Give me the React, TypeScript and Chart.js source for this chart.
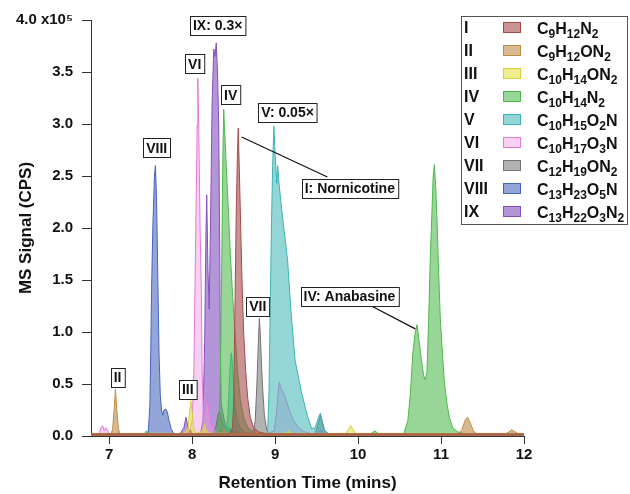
import React, { useEffect, useRef } from "react";
import { Chart, registerables } from "chart.js";

Chart.register(...registerables);

const FONT = '"Liberation Sans", Arial, Helvetica, sans-serif';

// ---- Legend content ----
const compoundIds = ["I", "II", "III", "IV", "V", "VI", "VII", "VIII", "IX"];
const formulas = [
  "C9H12N2",
  "C9H12ON2",
  "C10H14ON2",
  "C10H14N2",
  "C10H15O2N",
  "C10H17O3N",
  "C12H19ON2",
  "C13H23O5N",
  "C13H22O3N2",
];

// ---- Axis ticks ----
const xTickValues = [7, 8, 9, 10, 11, 12];
const yTickValues = [0, 0.5, 1.0, 1.5, 2.0, 2.5, 3.0, 3.5, 4.0];

// ---- Series (retention time in min, signal in 1e5 CPS) ----
const timeI = [6.78, 8.45, 8.485, 8.5, 8.515, 8.53, 8.545, 8.555, 8.57, 8.585, 8.6, 8.62, 8.645, 8.67, 8.7, 8.74, 8.8, 8.9, 12.0];
const signalI = [0.02, 0.02, 0.08, 0.3, 1.2, 2.1, 2.7, 2.96, 2.5, 2.0, 1.5, 1.0, 0.62, 0.36, 0.18, 0.08, 0.04, 0.02, 0.02];

const timeII = [6.78, 7.02, 7.04, 7.06, 7.075, 7.09, 7.11, 7.13, 7.95, 7.98, 8.0, 8.35, 8.38, 8.42, 11.2, 11.25, 11.29, 11.32, 11.35, 11.39, 11.43, 11.78, 11.82, 11.85, 11.89, 11.93, 12.0];
const signalII = [0.02, 0.02, 0.06, 0.26, 0.45, 0.26, 0.07, 0.02, 0.02, 0.06, 0.02, 0.02, 0.06, 0.02, 0.02, 0.06, 0.15, 0.18, 0.13, 0.05, 0.02, 0.02, 0.04, 0.06, 0.04, 0.02, 0.02];

const timeIII = [6.78, 7.9, 7.95, 7.97, 7.985, 8.0, 8.02, 8.05, 8.12, 8.15, 8.17, 8.22, 8.75, 8.8, 8.85, 9.12, 9.16, 9.2, 9.85, 9.88, 9.91, 9.94, 9.97, 12.0];
const signalIII = [0.025, 0.025, 0.08, 0.25, 0.34, 0.22, 0.07, 0.03, 0.04, 0.12, 0.05, 0.025, 0.025, 0.04, 0.025, 0.025, 0.05, 0.025, 0.025, 0.06, 0.1, 0.06, 0.025, 0.025];

const timeIV = [6.78, 7.42, 7.45, 7.48, 8.28, 8.32, 8.34, 8.355, 8.37, 8.38, 8.39, 8.41, 8.43, 8.46, 8.49, 8.52, 8.55, 8.58, 8.62, 8.67, 8.75, 8.85, 10.15, 10.2, 10.25, 10.55, 10.6, 10.63, 10.66, 10.69, 10.71, 10.73, 10.76, 10.79, 10.81, 10.83, 10.85, 10.87, 10.89, 10.905, 10.92, 10.935, 10.95, 10.97, 10.99, 11.02, 11.04, 11.07, 11.1, 11.14, 11.2, 11.3, 12.0];
const signalIV = [0.02, 0.02, 0.05, 0.02, 0.02, 0.1, 0.6, 1.6, 2.7, 3.14, 2.95, 2.6, 2.27, 1.75, 1.31, 0.95, 0.6, 0.35, 0.18, 0.08, 0.03, 0.02, 0.02, 0.05, 0.02, 0.02, 0.15, 0.4, 0.8, 1.0, 1.07, 0.95, 0.75, 0.58, 0.54, 0.62, 1.1, 1.7, 2.15, 2.5, 2.61, 2.4, 2.1, 1.6, 1.15, 0.75, 0.52, 0.32, 0.18, 0.08, 0.04, 0.02, 0.02];

const timeV = [6.78, 7.42, 7.46, 7.5, 8.4, 8.43, 8.455, 8.47, 8.485, 8.5, 8.53, 8.58, 8.65, 8.9, 8.91, 8.925, 8.94, 8.955, 8.97, 8.985, 9.0, 9.02, 9.03, 9.05, 9.08, 9.15, 9.19, 9.24, 9.32, 9.39, 9.44, 9.48, 9.52, 9.545, 9.57, 9.6, 9.65, 12.0];
const signalV = [0.015, 0.015, 0.03, 0.015, 0.015, 0.2, 0.65, 0.8, 0.7, 0.45, 0.2, 0.08, 0.03, 0.02, 0.05, 0.4, 1.2, 2.0, 2.6, 2.98, 2.7, 2.43, 2.6, 2.4, 2.17, 1.69, 1.21, 0.73, 0.41, 0.19, 0.07, 0.08, 0.17, 0.22, 0.14, 0.05, 0.02, 0.015];

const timeVI = [6.78, 6.88, 6.9, 6.92, 6.94, 6.96, 6.98, 7.0, 7.9, 7.97, 8.0, 8.02, 8.035, 8.05, 8.06, 8.068, 8.08, 8.095, 8.11, 8.12, 8.135, 8.15, 8.17, 8.18, 8.2, 8.23, 8.27, 8.35, 8.9, 8.99, 9.02, 9.04, 9.05, 9.07, 9.1, 9.13, 9.17, 9.22, 9.28, 9.35, 9.45, 9.55, 9.6, 12.0];
const signalVI = [0.02, 0.02, 0.08, 0.1, 0.05, 0.08, 0.05, 0.02, 0.02, 0.05, 0.15, 0.6, 1.5, 2.4, 3.0, 3.44, 2.9, 2.0, 1.4, 0.6, 0.25, 0.2, 0.33, 0.36, 0.25, 0.12, 0.05, 0.02, 0.02, 0.05, 0.25, 0.45, 0.52, 0.45, 0.42, 0.35, 0.25, 0.15, 0.08, 0.04, 0.02, 0.04, 0.02, 0.02];

const timeVII = [6.78, 8.25, 8.29, 8.31, 8.33, 8.35, 8.38, 8.42, 8.5, 8.7, 8.74, 8.76, 8.78, 8.8, 8.81, 8.82, 8.835, 8.85, 8.87, 8.9, 8.95, 9.48, 9.52, 9.545, 9.56, 9.58, 9.62, 12.0];
const signalVII = [0.02, 0.02, 0.1, 0.2, 0.24, 0.18, 0.1, 0.05, 0.03, 0.02, 0.04, 0.15, 0.5, 0.95, 1.13, 1.0, 0.7, 0.45, 0.2, 0.05, 0.02, 0.02, 0.12, 0.2, 0.15, 0.08, 0.02, 0.02];

const timeVIII = [6.78, 7.4, 7.47, 7.49, 7.5, 7.51, 7.525, 7.545, 7.556, 7.57, 7.58, 7.59, 7.6, 7.615, 7.63, 7.645, 7.66, 7.68, 7.7, 7.72, 7.75, 7.78, 8.3, 8.35, 8.45, 8.55, 8.6, 9.5, 9.55, 9.6, 12.0];
const signalVIII = [0.02, 0.02, 0.03, 0.3, 0.8, 1.4, 2.0, 2.5, 2.6, 2.3, 1.8, 1.3, 0.8, 0.4, 0.25, 0.2, 0.25, 0.26, 0.23, 0.15, 0.06, 0.02, 0.02, 0.05, 0.05, 0.04, 0.02, 0.02, 0.05, 0.02, 0.02];

const timeIX = [6.78, 7.85, 7.9, 7.925, 7.95, 7.98, 8.1, 8.13, 8.15, 8.165, 8.175, 8.19, 8.205, 8.22, 8.24, 8.26, 8.275, 8.29, 8.305, 8.32, 8.33, 8.34, 8.35, 8.4, 8.5, 8.6, 12.0];
const signalIX = [0.02, 0.02, 0.08, 0.18, 0.08, 0.02, 0.02, 0.15, 0.9, 1.9, 2.32, 1.6, 1.22, 2.0, 3.2, 3.72, 3.65, 3.78, 3.5, 3.0, 2.0, 0.8, 0.3, 0.1, 0.04, 0.02, 0.02];

const seriesTimes = [timeI, timeII, timeIII, timeIV, timeV, timeVI, timeVII, timeVIII, timeIX];
const seriesSignals = [signalI, signalII, signalIII, signalIV, signalV, signalVI, signalVII, signalVIII, signalIX];

// ---- Styles ----
const strokeColors = [
  "rgb(165,75,75)",
  "rgb(190,140,70)",
  "rgb(215,210,60)",
  "rgb(75,185,75)",
  "rgb(60,180,180)",
  "rgb(230,120,215)",
  "rgb(115,115,115)",
  "rgb(70,100,190)",
  "rgb(130,80,190)",
];
const fillColors = [
  "rgba(165,75,75,0.6)",
  "rgba(190,140,70,0.6)",
  "rgba(230,225,70,0.6)",
  "rgba(75,185,75,0.58)",
  "rgba(60,180,180,0.55)",
  "rgba(240,150,225,0.45)",
  "rgba(115,115,115,0.55)",
  "rgba(70,100,190,0.58)",
  "rgba(130,80,190,0.6)",
];

// ---- Annotations (positions in data units) ----
const annotationTexts = ["IX: 0.3×", "VI", "IV", "V: 0.05×", "I: Nornicotine", "VIII", "II", "III", "VII", "IV: Anabasine"];
const annotationX = [8.307, 8.03, 8.464, 9.15, 9.9, 7.572, 7.1, 7.946, 8.79, 9.896];
const annotationY = [3.95, 3.58, 3.28, 3.11, 2.38, 2.77, 0.567, 0.45, 1.25, 1.346];
const leaderLines = [
  { x1: 8.596, y1: 2.875, x2: 9.63, y2: 2.49 },
  { x1: 10.138, y1: 1.26, x2: 10.69, y2: 1.03 },
];

function drawFormula(ctx: CanvasRenderingContext2D, text: string, x: number, y: number) {
  let cx = x;
  for (const ch of text) {
    const isDigit = ch >= "0" && ch <= "9";
    ctx.font = isDigit ? `bold 12px ${FONT}` : `bold 16px ${FONT}`;
    ctx.textBaseline = "alphabetic";
    ctx.fillText(ch, cx, isDigit ? y + 4 : y);
    cx += ctx.measureText(ch).width;
  }
}

const overlayPlugin = {
  id: "overlay",
  afterDraw(chart: any) {
    const ctx: CanvasRenderingContext2D = chart.ctx;
    const xs = chart.scales.x;
    const ys = chart.scales.y;
    ctx.save();
    // leader lines
    ctx.strokeStyle = "#111";
    ctx.lineWidth = 1.2;
    for (const l of leaderLines) {
      ctx.beginPath();
      ctx.moveTo(xs.getPixelForValue(l.x1), ys.getPixelForValue(l.y1));
      ctx.lineTo(xs.getPixelForValue(l.x2), ys.getPixelForValue(l.y2));
      ctx.stroke();
    }
    // annotation boxes
    ctx.font = `bold 14px ${FONT}`;
    ctx.textAlign = "center";
    ctx.textBaseline = "middle";
    annotationTexts.forEach((t, i) => {
      const cx = xs.getPixelForValue(annotationX[i]);
      const cy = ys.getPixelForValue(annotationY[i]);
      const w = ctx.measureText(t).width + 6;
      const h = 19;
      const left = Math.round(cx - w / 2) + 0.5;
      const top = Math.round(cy - h / 2) + 0.5;
      ctx.fillStyle = "#fff";
      ctx.fillRect(left, top, w, h);
      ctx.strokeStyle = "#222";
      ctx.lineWidth = 1;
      ctx.strokeRect(left, top, w, h);
      ctx.fillStyle = "#111";
      ctx.fillText(t, cx, cy + 1);
    });
    // legend
    const lx = 461.5, ly = 16.5, lw = 166, lh = 208;
    ctx.fillStyle = "#fff";
    ctx.fillRect(lx, ly, lw, lh);
    ctx.strokeStyle = "#555";
    ctx.lineWidth = 1;
    ctx.strokeRect(lx, ly, lw, lh);
    compoundIds.forEach((id, i) => {
      const rowY = 28 + i * 23;
      ctx.textAlign = "left";
      ctx.textBaseline = "middle";
      ctx.font = `bold 16px ${FONT}`;
      ctx.fillStyle = "#111";
      ctx.fillText(id, 464, rowY + 1);
      ctx.fillStyle = fillColors[i];
      ctx.fillRect(503.5, rowY - 5.5, 17, 10);
      ctx.strokeStyle = strokeColors[i];
      ctx.strokeRect(503.5, rowY - 5.5, 17, 10);
      ctx.fillStyle = "#111";
      drawFormula(ctx, formulas[i], 537, rowY + 6);
    });
    ctx.restore();
  },
};

export default function App() {
  const ref = useRef<HTMLCanvasElement>(null);
  useEffect(() => {
    document.body.style.margin = "0";
    const canvas = ref.current!;
    const datasets = compoundIds.map((id, i) => ({
      label: id,
      data: seriesTimes[i].map((t, j) => ({ x: t, y: seriesSignals[i][j] })),
      borderColor: strokeColors[i],
      backgroundColor: fillColors[i],
      borderWidth: 1,
      pointRadius: 0,
      tension: 0,
      fill: "origin",
    }));
    const chart = new Chart(canvas, {
      type: "line",
      data: { datasets },
      options: {
        responsive: false,
        animation: false,
        devicePixelRatio: 1,
        layout: { padding: { top: 20, right: 106, bottom: 0, left: 0 } },
        plugins: { legend: { display: false }, tooltip: { enabled: false } },
        scales: {
          x: {
            type: "linear",
            min: 6.78,
            max: 12,
            afterBuildTicks: (s: any) => {
              s.ticks = xTickValues.map((v) => ({ value: v }));
            },
            afterFit: (s: any) => {
              s.height = 58;
            },
            grid: { display: true, drawOnChartArea: false, drawTicks: true, tickLength: 8, color: "#333", lineWidth: 1 },
            border: { display: true, color: "#333", width: 1 },
            ticks: {
              color: "#111",
              padding: 2,
              font: { family: FONT, size: 15, weight: "bold" },
              callback: (v: any) => String(v),
            },
            title: {
              display: true,
              text: "Retention Time (mins)",
              color: "#111",
              font: { family: FONT, size: 17, weight: "bold", lineHeight: 1 },
              padding: { top: 0, bottom: 2 },
            },
          },
          y: {
            type: "linear",
            min: 0,
            max: 4,
            afterBuildTicks: (s: any) => {
              s.ticks = yTickValues.map((v) => ({ value: v }));
            },
            afterFit: (s: any) => {
              s.width = 91;
            },
            grid: { display: true, drawOnChartArea: false, drawTicks: true, tickLength: 9, color: "#333", lineWidth: 1 },
            border: { display: true, color: "#333", width: 1 },
            ticks: {
              color: "#111",
              padding: 9,
              font: { family: FONT, size: 15, weight: "bold" },
              callback: (v: any) => (v === 4 ? "4.0 x10\u2075" : Number(v).toFixed(1)),
            },
            title: {
              display: true,
              text: "MS Signal (CPS)",
              color: "#111",
              font: { family: FONT, size: 17, weight: "bold", lineHeight: 1 },
              padding: { top: 18, bottom: 0 },
            },
          },
        },
      },
      plugins: [overlayPlugin],
    } as any);
    return () => chart.destroy();
  }, []);
  return <canvas ref={ref} width={630} height={494} style={{ display: "block" }} />;
}
